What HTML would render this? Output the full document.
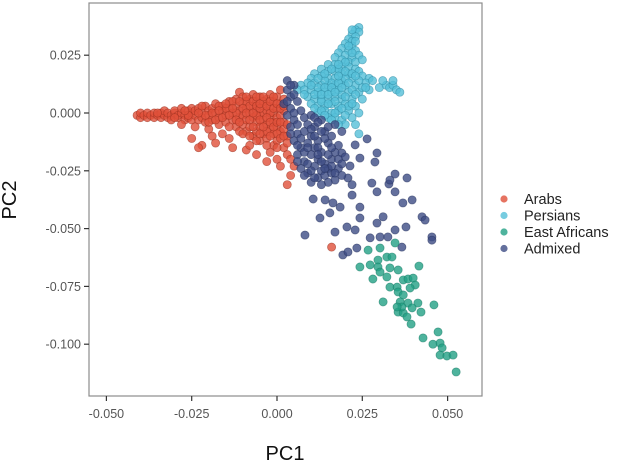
<!DOCTYPE html>
<html><head><meta charset="utf-8">
<style>
html,body{margin:0;padding:0;background:#fff;}
svg{display:block;font-family:"Liberation Sans",sans-serif;}
</style></head>
<body>
<svg id="chart" width="630" height="463" viewBox="0 0 630 463">
  <rect x="89" y="3" width="393" height="393" fill="#fff" stroke="#8c8c8c" stroke-width="1.2"/>
  <g id="pts"></g>
  <g id="axes"></g>
  <text x="16" y="200" font-size="20" fill="#111" text-anchor="middle" transform="rotate(-90 16 200)">PC2</text>
  <text x="285" y="460" font-size="20" fill="#111" text-anchor="middle">PC1</text>
  <g id="legend"></g>
</svg>
<script>
// values in units of 1e-3
const xTicks = [-50, -25, 0, 25, 50];
const yTicks = [25, 0, -25, -50, -75, -100];
const xTickLabels = ["-0.050", "-0.025", "0.000", "0.025", "0.050"];
const yTickLabels = ["0.025", "0.000", "-0.025", "-0.050", "-0.075", "-0.100"];
const groups = ["Arabs", "Persians", "East Africans", "Admixed"];
const arabs = [[-41,-1],[-40,-2],[-40,0],[-39,-1],[-38,-2],[-38,0],[-37,-1],[-36,-2],[-36,0],[-35,-1],[-34,-2],[-34,0],[-33,-1],[-33,1],[-32,-2],[-32,0],[-31,-1],[-31,-3],[-30,0],[-30,1],[-29,-2],[-29,-1],[-28,0],[-28,2],[-27,-1],[-27,-3],[-26,1],[-26,-2],[-25,0],[-25,2],[-25,-3],
[-24,-1],[-24,1],[-23,-3],[-23,2],[-22,0],[-22,-2],[-21,3],[-21,-4],[-20,1],[-20,-1],[-19,-3],[-19,2],[-18,0],[-18,4],[-17,-2],[-17,-5],[-16,1],[-16,3],[-15,-1],[-15,-4],[-14,2],[-14,5],[-13,0],[-13,-3],[-12,3],[-12,-6],[-12,6],
[-11,9],[-11,1],[-11,-2],[-10,7],[-10,4],[-10,-1],[-10,-5],[-9,2],[-9,-3],[-9,-8],[-8,6],[-8,0],[-8,-6],[-7,8],[-7,3],[-7,-2],[-7,-10],[-6,5],[-6,1],[-6,-4],[-6,-8],[-5,7],[-5,-1],[-5,-6],[-5,-12],[-4,3],[-4,0],[-4,-3],[-4,-9],[-3,6],[-3,1],[-3,-5],[-3,-11],[-2,8],[-2,3],[-2,-2],[-2,-7],[-1,5],[-1,0],[-1,-4],[-1,-9],[-1,-14],[0,7],[0,2],[0,-2],[0,-6],[0,-12],[1,10],[1,4],[1,-1],[1,-8],[2,6],[2,-4],[2,-15],[3,-10],[3,-18],[4,-20],[5,-23],[-2,-17],[-20,-7],[-24,-6],[-19,-10],[-22,-14],[-23,-15],[-25,-11],[-18,-13],[-14,-11],[-13,-15],[-9,-16],[-6,-18],[-3,-21],[0,-20],[1,-23],[4,-27],[3,-31],[-8,-14],[16,-58],[-28,-5],[-16,-9],
[-20,-4],[-15,2],[-12,0],[-9,5],[-8,3],[-6,-1],[-4,5],[-3,-8],[-2,0],[0,-9],[2,1],[-13,5],[-17,3],
[-22,3],[-21,-1],[-19,0],[-18,-3],[-17,1],[-16,-2],[-15,4],[-14,-1],[-14,-6],[-13,2],[-12,-3],[-11,5],[-11,-4],[-11,-8],[-10,2],[-10,-9],[-9,0],[-9,7],[-8,-3],[-8,-10],[-7,5],[-7,-6],[-7,0],[-6,3],[-6,7],[-6,-12],[-5,2],[-5,4],[-5,-3],[-5,-9],[-4,7],[-4,-6],[-3,3],[-3,-2],[-3,-14],[-2,5],[-2,-4],[-2,-10],[-1,2],[-1,7],[-1,-6],[0,4],[0,-4],[0,-15],[1,2],[1,-4],[1,-11],[2,-7],[2,-10],[2,3],[3,-5],[3,-13],[-26,-1],[-30,-2],[-35,0],[-23,0],[-27,1]];
const persians = [[24,37],[23,36],[24,35],[22,34],[23,33],[21,32],[22,31],[20,30],[22,29],[19,28],[21,27],[23,27],[18,26],[20,25],[22,24],[24,25],[17,24],[19,23],[21,22],[23,22],[25,23],
[15,21],[17,21],[19,20],[21,20],[23,19],[13,19],[15,18],[17,18],[19,17],[21,17],[24,18],[11,17],[13,16],[15,15],[17,15],[19,14],[22,15],[25,16],[27,15],[10,15],[9,13],[11,13],[13,12],[15,12],[17,12],[20,12],[23,12],[26,13],[28,14],[7,12],[6,10],[8,10],[10,10],[12,9],[14,9],[16,9],[18,10],[21,9],[24,9],[27,10],[30,11],[32,12],[33,11],[34,12],[35,10],[36,9],[34,14],[31,14],
[9,7],[11,6],[13,6],[15,6],[17,7],[19,6],[22,6],[25,6],[10,4],[12,3],[14,3],[16,4],[18,3],[20,4],[23,3],[12,0],[14,1],[16,0],[18,1],[21,1],[24,0],[15,-2],[17,-2],[19,-3],[22,-2],[20,-5],[23,-5],[18,-5],[24,-9],[16,-3],
[18,19],[20,15],[16,13],[14,14],[18,13],[12,11],[22,10],[19,8],[25,11],[13,5],[21,3],[17,5],
[20,22],[18,21],[16,19],[14,17],[12,15],[10,12],[14,11],[16,11],[18,16],[20,18],[22,17],[24,14],[26,11],[19,11],[21,13],[23,16],[11,8],[13,8],[15,8],[17,9],[20,7],[23,8],[8,8],[11,2],[13,1],[15,4],[19,2],[22,4],[14,-1],[17,0],[20,-1],[22,26],[21,29],[23,31],[22,36]];
const admixed = [[26.4,-11.2],[29.3,-17.3],[34.6,-26.4],[38.1,-28.1],[39.6,-37.6],[36.9,-38.9],[34.6,-34.1],[32.8,-30.7],[27.8,-30.3],[29.3,-34.1],[24.3,-40.7],[31.1,-44.9],[29.3,-47.6],[34.6,-50.6],[37.8,-49.3],[42.5,-44.9],[43.4,-46.3],[45.4,-53.6],[45.4,-55],[27.3,-54],[30.2,-53.6],[32.5,-53.6],[36.6,-58],[23.4,-58.4],[19.3,-61.4],[20.8,-60.1],[22.9,-50.6],[20.5,-49.3],[24.3,-45.4],[18.5,-40.7],[16.4,-38.9],[17,-51.5],[8.2,-52.8],[12.6,-45.4],[14.1,-37.6],[10.6,-37.2],[15.5,-43.2],[22,-35.5],[20.8,-28.1],[22,-31],[21.4,-22.9],[24.3,-19.5],[19,-17.3],[22.9,-13.8],[28.7,-21.2],[33.1,-29],
[3,14],[3,10],[4,7],[2,4],[4,2],[3,-1],[5,-3],[4,-6],[6,-9],[5,-12],[7,-15],[6,-18],[8,-21],[7,-24],[5,12],[6,5],[7,1],[8,-2],[9,-5],[8,-8],[10,-10],[9,-13],[11,-15],[10,-18],[12,-20],[11,-23],[13,-25],[12,-28],[14,-27],[15,-24],[16,-26],[17,-29],[14,-22],[16,-20],[18,-24],[17,-17],[13,-17],[15,-13],[12,-12],[14,-8],[11,-6],[13,-3],[10,-1],[16,-10],[18,-14],[19,-8],[17,-5],[15,-30],[9,-26],[10,-30],[13,-31],[19,-27],[20,-19],[11,-2],[6,-14],
[4,12],[5,8],[5,0],[6,-5],[7,-11],[8,-17],[9,-22],[10,-25],[11,-28],[13,-21],[15,-18],[12,-15],[14,-11],[10,-7],[12,-4],[15,-6],[9,-15],[11,-10],[13,-8],[16,-15],[18,-20],[16,-23],[14,-24],[12,-18],[3,5],[4,-9],[6,-21],[8,-27],[17,-26],[19,-22]];
const eastAfricans = [[26.7,-59.3],[30.2,-58.4],[34.6,-56.2],[24.3,-66.6],[27.3,-65.7],[29.6,-63.6],[29.6,-66.6],[30.2,-68.8],[28.1,-71.8],[32.2,-62.3],[33.7,-62.3],[33.1,-67],[35.5,-67.9],[32.2,-70.9],[41.6,-66.2],[33.1,-75.3],[35.2,-75.3],[37,-72.2],[38.4,-71.8],[39.9,-71.4],[40.5,-74.4],[39,-75.7],[35.5,-77.4],[37,-78.7],[36.1,-81.7],[31.1,-81.7],[38.4,-82.2],[41.3,-82.2],[35.5,-86.1],[37,-86.5],[38.1,-88.2],[39.6,-84.3],[42.2,-86.1],[46,-83],[39.3,-91.3],[42.8,-97.3],[47.2,-94.7],[45.7,-100],[47.8,-99.5],[48.4,-101.6],[47.8,-104.7],[49.8,-105.1],[51.6,-104.7],[52.5,-112],[36.6,-83.9],[35.2,-83.9]];

function sx(v){ return 277 + v*3.412; }
function sy(v){ return 113 - v*2.312; }
const NS = "http://www.w3.org/2000/svg";
const axes = document.getElementById('axes');
xTicks.forEach((t,i)=>{
  const l = document.createElementNS(NS,'line');
  l.setAttribute('x1',sx(t)); l.setAttribute('x2',sx(t)); l.setAttribute('y1',396); l.setAttribute('y2',401);
  l.setAttribute('stroke','#333'); l.setAttribute('stroke-width','1.2');
  
  
  axes.appendChild(l);
  const tx = document.createElementNS(NS,'text');
  tx.setAttribute('x',sx(t)); tx.setAttribute('y',418); tx.setAttribute('font-size','12.5');
  tx.setAttribute('fill','#555'); tx.setAttribute('text-anchor','middle');
  tx.textContent = xTickLabels[i];
  
  
  axes.appendChild(tx);
});
yTicks.forEach((t,i)=>{
  const l = document.createElementNS(NS,'line');
  l.setAttribute('x1',84); l.setAttribute('x2',89); l.setAttribute('y1',sy(t)); l.setAttribute('y2',sy(t));
  l.setAttribute('stroke','#333'); l.setAttribute('stroke-width','1.2');
  
  
  axes.appendChild(l);
  const tx = document.createElementNS(NS,'text');
  tx.setAttribute('x',81); tx.setAttribute('y',sy(t)+4.5); tx.setAttribute('font-size','12.5');
  tx.setAttribute('fill','#555'); tx.setAttribute('text-anchor','end');
  tx.textContent = yTickLabels[i];
  
  
  axes.appendChild(tx);
});
const fills = ["#e0503a","#55bfd8","#22a085","#3d4c85"];
const strokes = ["#9a3020","#2f8aa3","#177a64","#27325e"];
const series = [arabs, persians, eastAfricans, admixed];
const drawOrder = [0,1,3,2];
const pts = document.getElementById('pts');
drawOrder.forEach(gi=>{
  series[gi].forEach(p=>{
    const c = document.createElementNS(NS,'circle');
    c.setAttribute('cx',sx(p[0])); c.setAttribute('cy',sy(p[1])); c.setAttribute('r',4.1);
    c.setAttribute('fill',fills[gi]); c.setAttribute('fill-opacity','0.8');
    c.setAttribute('stroke',strokes[gi]); c.setAttribute('stroke-opacity','0.6'); c.setAttribute('stroke-width','0.7');
    
    
    pts.appendChild(c);
  });
});
const legend = document.getElementById('legend');
groups.forEach((g,i)=>{
  const y = 199 + i*16.5;
  const c = document.createElementNS(NS,'circle');
  c.setAttribute('cx',504); c.setAttribute('cy',y); c.setAttribute('r',3.6);
  c.setAttribute('fill',fills[i]); c.setAttribute('fill-opacity','0.8');
  
  
  legend.appendChild(c);
  const t = document.createElementNS(NS,'text');
  t.setAttribute('x',524); t.setAttribute('y',y+5); t.setAttribute('font-size','14.5'); t.setAttribute('fill','#222');
  t.textContent = g;
  
  
  legend.appendChild(t);
});
</script>
</body></html>
